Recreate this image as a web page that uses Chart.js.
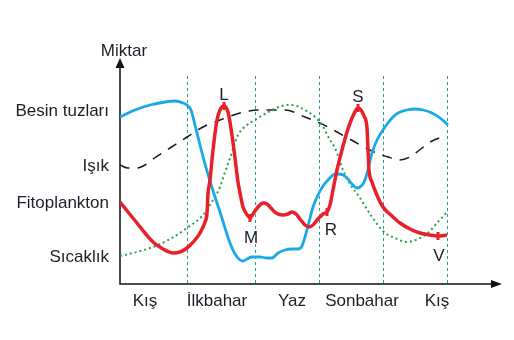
<!DOCTYPE html>
<html>
<head>
<meta charset="utf-8">
<script src="https://cdn.jsdelivr.net/npm/chart.js@4.4.0/dist/chart.umd.min.js"></script>
<style>
  html, body { margin: 0; padding: 0; background: #fff; }
  canvas { display: block; }
</style>
</head>
<body>
<canvas id="chart" width="514" height="340"></canvas>
<script>
// seasons along the time axis
const seasons = ['Kış', 'İlkbahar', 'Yaz', 'Sonbahar', 'Kış'];
const seasonCenters = [12.5, 48.5, 86, 121, 158.5];
const seasonBounds = [33.5, 67.5, 99.5, 131.5, 163.5];

// names on the Miktar axis and the level each one sits at
const seriesNames = ['Besin tuzları', 'Işık', 'Fitoplankton', 'Sıcaklık'];
const seriesLevels = [87, 59.5, 41, 14];

// [time, amount]
const besinTuzlari = [
  [0, 83.5], [7.5, 87], [15, 89.5], [22.5, 91], [27.5, 91.5], [31.5, 90.5], [34, 89],
  [35.5, 87], [37.5, 79.5], [40, 69.5], [42.5, 60], [45, 51.5], [47.5, 43.5], [50, 36],
  [52.5, 28], [55, 20.5], [57.5, 15], [60, 12], [61.5, 11.5], [63.5, 12.5], [66, 13.5],
  [70, 13.5], [73.5, 13], [76, 13], [79, 15.5], [82.5, 17], [86, 17.5], [89, 17.5],
  [91, 19], [92.5, 23.5], [94.5, 31], [96.5, 38.5], [99, 44.5], [101.5, 49], [104, 52],
  [106.5, 54.5], [109, 55], [111.5, 54.5], [113.5, 53], [116, 50], [118.5, 48], [120, 48.5],
  [121.5, 50], [123, 53.5], [124.5, 59.5], [126, 65.5], [128.5, 72], [132.5, 78.5],
  [136, 83], [139, 85.5], [143.5, 87], [147.5, 87.5], [151.5, 87], [156, 85.5], [160, 83],
  [164, 79.5]
];

const isik = [
  [0, 59.5], [4, 58], [8.5, 58], [12.5, 59.5], [16.5, 62.5], [25, 68], [33.5, 73.5],
  [41.5, 78.5], [50, 82], [60, 85.5], [70, 87], [82.5, 87], [92.5, 83.5], [100, 80.5],
  [108.5, 76], [117.5, 71], [126, 66.5], [134, 63.5], [140, 62], [145, 63.5], [151, 68],
  [156, 71.5], [162.5, 74]
];

const fitoplankton = [
  [0, 41], [4, 36], [8.5, 30.5], [12.5, 25.5], [16.5, 21], [21.5, 17.5], [26.5, 15.5],
  [30, 16], [33.5, 18], [37.5, 22], [40, 25.5], [42.5, 31], [43.5, 35.5], [44, 45],
  [45, 52], [46.5, 67], [48.5, 82], [50, 87], [52, 89], [54, 86], [56, 74.5], [57.5, 63],
  [59, 51], [60.5, 43], [61.5, 38.5], [64, 34], [65, 33], [66.5, 35], [69, 38.5],
  [71.5, 40.5], [73.5, 40], [75.5, 38], [78, 35.5], [81.5, 34.5], [84, 35], [86, 36],
  [88, 35], [90, 32.5], [92.5, 29.5], [94.5, 28.5], [96.5, 29.5], [99, 32.5], [101.5, 35],
  [103.5, 36], [105, 39.5], [106.5, 47], [108.5, 57], [111, 67], [113.5, 76], [116, 83],
  [118, 87], [119, 88], [120.5, 87], [122, 84], [123.5, 78], [124, 67], [124.5, 57],
  [126, 51], [128, 45.5], [131.5, 38.5], [136, 34], [140, 30.5], [145, 27.5], [150, 25.5],
  [155, 24.5], [159, 24], [163.5, 24.5]
];

const sicaklik = [
  [0, 14], [8.5, 16], [16.5, 18.5], [25, 22.5], [33.5, 28], [41.5, 34.5], [46.5, 42],
  [50, 48.5], [52.5, 56], [55, 63], [59, 74.5], [63.5, 79.5], [67.5, 82], [76, 87],
  [84, 89.5], [88.5, 89], [92.5, 87], [97.5, 83.5], [101, 79.5], [105, 72], [107.5, 68],
  [111.5, 57], [115, 50], [120, 43], [125, 35], [132, 26], [137.5, 23], [143.5, 21],
  [149, 22.5], [154, 25.5], [158.5, 30.5], [163.5, 36]
];

// marked points on the phytoplankton curve
const markerNames = ['L', 'M', 'R', 'S', 'V'];
const markerX = [52, 65, 103.5, 119, 159];

const FONT = '17px "Liberation Sans", Arial, sans-serif';
const TEXT = '#1e1e28';
const RED = '#e8202a';

const toPoints = arr => arr.map(([x, y]) => ({x, y}));
const markerPoints = markerX.map(mx => {
  const p = fitoplankton.find(([x]) => x === mx);
  return {x: mx, y: p[1]};
});

const frame = {
  id: 'frame',
  beforeDatasetsDraw(chart) {
    const {ctx, chartArea: a, scales: {x}} = chart;
    ctx.save();

    // season boundaries
    ctx.strokeStyle = '#2a9a9e';
    ctx.lineWidth = 1;
    ctx.setLineDash([3, 3]);
    seasonBounds.forEach(b => {
      const px = Math.round(x.getPixelForValue(b)) + 0.5;
      ctx.beginPath();
      ctx.moveTo(px, a.top);
      ctx.lineTo(px, a.bottom);
      ctx.stroke();
    });
    ctx.setLineDash([]);

    // axes with arrow heads
    ctx.strokeStyle = '#111';
    ctx.fillStyle = '#111';
    ctx.lineWidth = 1.5;
    ctx.beginPath();
    ctx.moveTo(a.left, a.top - 10);
    ctx.lineTo(a.left, a.bottom);
    ctx.lineTo(a.right - 8, a.bottom);
    ctx.stroke();

    ctx.beginPath();
    ctx.moveTo(a.left, a.top - 18);
    ctx.lineTo(a.left - 4.5, a.top - 8);
    ctx.lineTo(a.left + 4.5, a.top - 8);
    ctx.closePath();
    ctx.fill();

    ctx.beginPath();
    ctx.moveTo(a.right, a.bottom);
    ctx.lineTo(a.right - 11, a.bottom - 4);
    ctx.lineTo(a.right - 11, a.bottom + 4);
    ctx.closePath();
    ctx.fill();
    ctx.restore();
  },
  afterDraw(chart) {
    const {ctx, chartArea: a, scales: {x, y}} = chart;
    ctx.save();
    ctx.font = FONT;
    ctx.fillStyle = TEXT;
    ctx.textBaseline = 'alphabetic';

    ctx.textAlign = 'center';
    ctx.fillText('Miktar', a.left + 4, a.top - 20);

    ctx.textAlign = 'right';
    seriesNames.forEach((name, i) => {
      ctx.fillText(name, a.left - 11, y.getPixelForValue(seriesLevels[i]) + 6);
    });

    ctx.textAlign = 'center';
    seasons.forEach((s, i) => {
      ctx.fillText(s, x.getPixelForValue(seasonCenters[i]), a.bottom + 22);
    });

    markerPoints.forEach((p, i) => {
      const px = x.getPixelForValue(p.x);
      const py = y.getPixelForValue(p.y);
      const name = markerNames[i];
      if (name === 'L' || name === 'S') {
        ctx.fillText(name, px, py - 6);
      } else if (name === 'R') {
        ctx.fillText(name, px + 4, py + 23);
      } else {
        ctx.fillText(name, px + 1, py + 25);
      }
    });
    ctx.restore();
  }
};

new Chart(document.getElementById('chart'), {
  type: 'line',
  data: {
    datasets: [
      {
        label: 'İşaretler',
        data: markerPoints,
        showLine: false,
        pointStyle: 'line',
        rotation: 90,
        pointRadius: 4,
        pointBorderWidth: 3,
        pointBorderColor: RED,
        order: 0
      },
      {
        label: 'Fitoplankton',
        data: toPoints(fitoplankton),
        borderColor: RED,
        borderWidth: 3.5,
        cubicInterpolationMode: 'monotone',
        order: 1
      },
      {
        label: 'Besin tuzları',
        data: toPoints(besinTuzlari),
        borderColor: '#1ba8e6',
        borderWidth: 2.8,
        cubicInterpolationMode: 'monotone',
        order: 2
      },
      {
        label: 'Sıcaklık',
        data: toPoints(sicaklik),
        borderColor: '#27a04e',
        borderWidth: 2,
        borderDash: [2, 3],
        cubicInterpolationMode: 'monotone',
        order: 3
      },
      {
        label: 'Işık',
        data: toPoints(isik),
        borderColor: '#1a1a1a',
        borderWidth: 1.5,
        borderDash: [10, 8],
        cubicInterpolationMode: 'monotone',
        order: 4
      }
    ]
  },
  options: {
    responsive: false,
    animation: false,
    layout: {padding: {left: 120, top: 76, right: 12, bottom: 56}},
    elements: {point: {radius: 0}},
    plugins: {legend: {display: false}, tooltip: {enabled: false}},
    scales: {
      x: {type: 'linear', min: 0, max: 191, display: false},
      y: {min: 0, max: 104, display: false}
    }
  },
  plugins: [frame]
});
</script>
</body>
</html>
